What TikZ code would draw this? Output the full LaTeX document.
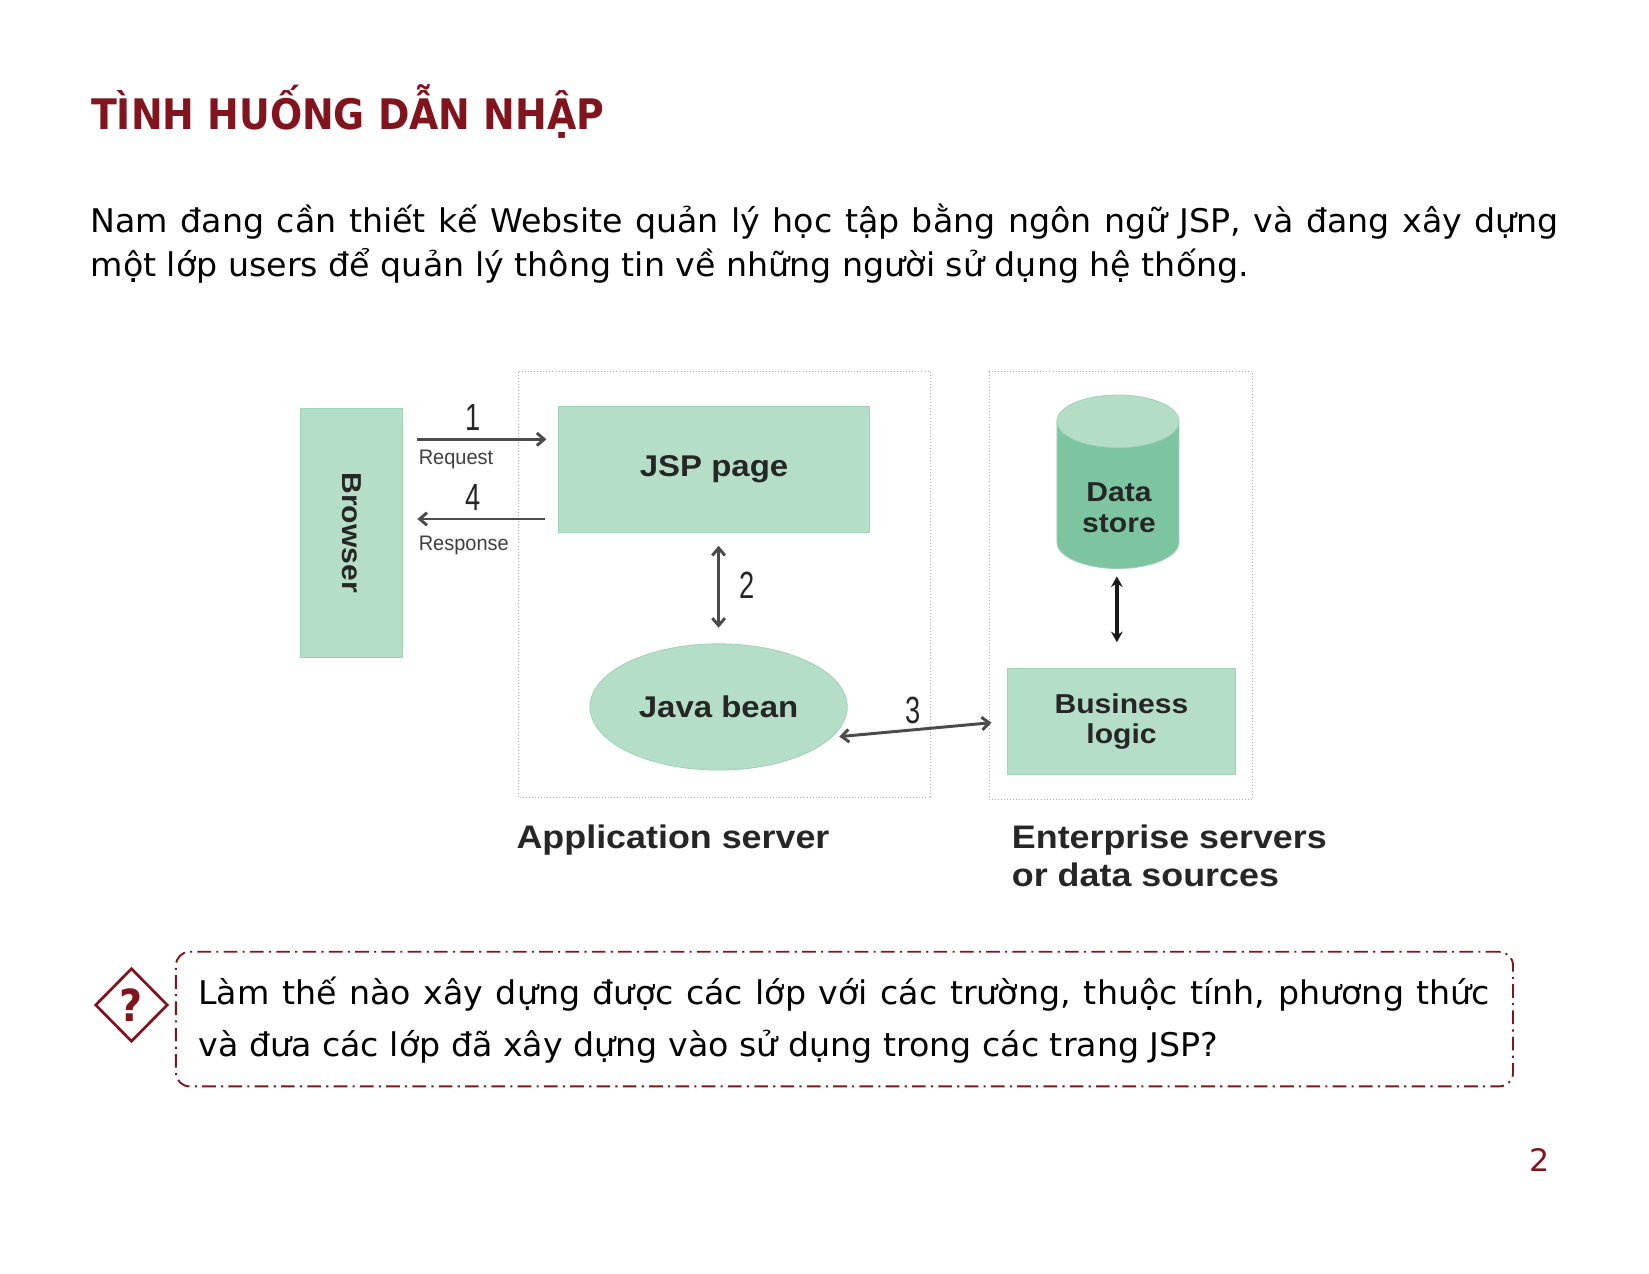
\documentclass[tikz,border=0pt]{standalone}
\usepackage{fontspec}
\setmainfont{DejaVu Sans}
\newfontfamily\slidefont{DejaVu Sans}[FakeStretch=1.02]
\newfontfamily\headfont{DejaVu Sans}[FakeStretch=0.9]
\newfontfamily\figfont{Liberation Sans}[FakeStretch=1.1]
\newfontfamily\stepfont{Liberation Sans}[FakeStretch=0.72]
\newfontfamily\msgfont{Liberation Sans}[FakeStretch=0.95]
\usetikzlibrary{arrows.meta}
\usetikzlibrary{shapes.geometric}
\usetikzlibrary{positioning}

\definecolor{slidered}{RGB}{130,20,30}
\definecolor{mint}{RGB}{181,222,201}
\definecolor{mintedge}{RGB}{160,210,185}
\definecolor{storebody}{RGB}{125,197,161}
\definecolor{storetop}{RGB}{180,221,200}
\definecolor{flowgray}{RGB}{75,75,75}
\definecolor{zonegray}{RGB}{170,170,170}

\tikzset{
  mintbox/.style={draw=mintedge, fill=mint, line width=0.8pt, inner sep=0pt, align=center,
    font=\figfont\bfseries\fontsize{26}{29}\selectfont, text=black!85},
  zone/.style={draw=zonegray, dotted, line width=0.9pt},
  flow/.style={draw=flowgray, line width=2.8pt, >={Straight Barb[length=7pt,width=12pt]}},
  dbflow/.style={draw=black!90, line width=3.4pt, >={Stealth[length=10pt,width=11pt]}},
  stepnum/.style={font=\stepfont\fontsize{36}{36}\selectfont, text=black!85, inner sep=0pt, anchor=base},
  msg/.style={font=\msgfont\fontsize{20}{20}\selectfont, text=black!75, inner sep=0pt, anchor=base west},
  zonelabel/.style={font=\figfont\bfseries\fontsize{31}{35.7}\selectfont, text=black!85, inner sep=0pt,
    align=left, anchor=north west},
  slidetext/.style={font=\slidefont\fontsize{31}{42}\selectfont, inner sep=0pt, anchor=base west},
}

\begin{document}
\begin{tikzpicture}[x=1pt,y=-1pt]
\useasboundingbox (0,0) rectangle (1568,1211);
\fill[white] (0,0) rectangle (1568,1211);

% heading and intro
\node[anchor=base west, inner sep=0pt, text=slidered, font=\headfont\bfseries\fontsize{40}{40}\selectfont] (title) at (86.5,123) {TÌNH HUỐNG DẪN NHẬP};
\node[slidetext] (intro1) at (86,221) {\makebox[1396pt][s]{Nam đang cần thiết kế Website quản lý học tập bằng ngôn ngữ JSP, và đang xây dựng}};
\node[slidetext] (intro2) at (86,263) {một lớp users để quản lý thông tin về những người sử dụng hệ thống.};

% server zones
\draw[zone] (493.4,353.4) rectangle (884.8,758.5);
\draw[zone] (940.7,353.4) rectangle (1191,760);

% boxes
\node[mintbox, minimum width=97, minimum height=237] (browser) at (334.5,506.5) {\rotatebox{-90}{Browser}};
\node[mintbox, minimum width=296, minimum height=120, font=\figfont\bfseries\fontsize{28.5}{29}\selectfont] (jsp) at (679,446) {JSP page};
\node[mintbox, ellipse, minimum width=244.6, minimum height=120, font=\figfont\bfseries\fontsize{28.5}{29}\selectfont] (bean) at (683.3,672.2) {Java bean};
\node[mintbox, minimum width=216.5, minimum height=100.5] (logic) at (1066.4,685.8) {Business\\logic};

% data store cylinder
\path[fill=storebody, draw=mintedge, line width=0.8pt] (1005,400.6) -- (1005,515.6)
  arc[start angle=180, end angle=0, x radius=58, y radius=25] -- (1121,400.6) -- cycle;
\path[fill=storetop, draw=mintedge, line width=0.8pt] (1063,400.6) ellipse[x radius=58, y radius=25];
\node[inner sep=0pt, align=center, text=black!85, font=\figfont\bfseries\fontsize{26}{29}\selectfont] (store) at (1064,483) {Data\\store};
\coordinate (storebase) at (1062,540.6);

% request / response
\coordinate (reqend) at ([yshift=28.3pt]jsp.west);
\coordinate (respstart) at ([yshift=-47.5pt]jsp.west);
\draw[flow, ->, shorten <=13.5, shorten >=11] (browser.east |- reqend) -- (reqend);
\draw[flow, ->, shorten <=12.5, shorten >=13.5] (respstart) -- (browser.east |- respstart);
\node[stepnum] (n1) at (449.8,409.5) {1};
\node[msg] (req) at (398,441.5) {Request};
\node[stepnum] (n4) at (449.8,485) {4};
\node[msg] (resp) at (398,523) {Response};

% jsp <-> bean, bean <-> logic
\draw[flow, <->, shorten <=12.6, shorten >=14.9] (bean.north |- jsp.south) -- (bean.north);
\node[stepnum] (n2) at (710.5,569) {2};
\draw[flow, <->, shorten <=7, shorten >=15] (bean.-15) -- (logic.west);
\node[stepnum] (n3) at (868,687.5) {3};

% store <-> logic
\draw[dbflow, <->, shorten <=7.5, shorten >=24.5] (storebase) -- (storebase |- logic.north);

% zone captions
\node[zonelabel] (appsrv) at (491,784.5) {Application server};
\node[zonelabel] (entsrv) at (962,784.5) {Enterprise servers\\or data sources};

% question
\node[draw=slidered, line width=1.8pt, rounded corners=13pt, dash pattern=on 13pt off 5pt on 2pt off 5pt,
  minimum width=1271.4, minimum height=128] (qbox) at (803,969) {};
\node[diamond, draw=slidered, line width=2.6pt, minimum width=69, minimum height=70, inner sep=0pt,
  text=slidered, font=\headfont\bfseries\fontsize{42}{42}\selectfont] (qmark) at (125,955.6) {?};
\node[slidetext] (q1) at (188.5,955.6) {\makebox[1228pt][s]{Làm thế nào xây dựng được các lớp với các trường, thuộc tính, phương thức}};
\node[slidetext] (q2) at (188.5,1004.7) {và đưa các lớp đã xây dựng vào sử dụng trong các trang JSP?};

% page number
\node[anchor=base, inner sep=0pt, text=slidered, font=\slidefont\fontsize{29.5}{29.5}\selectfont] (pageno) at (1464,1114) {2};
\end{tikzpicture}
\end{document}
